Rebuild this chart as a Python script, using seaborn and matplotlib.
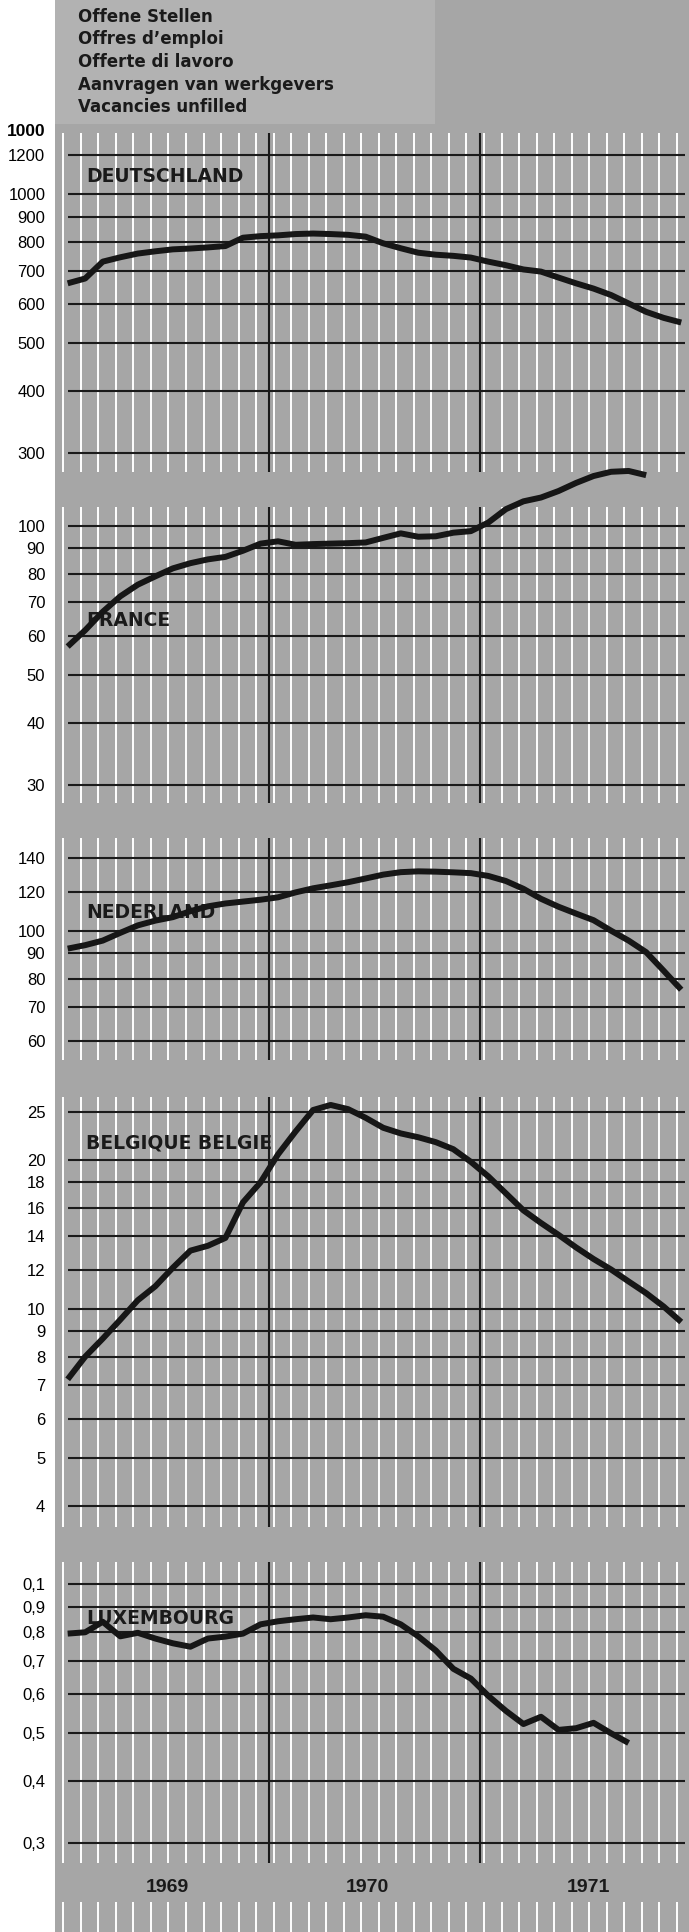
import numpy as np
import pandas as pd
import matplotlib
matplotlib.use("Agg")
import matplotlib.pyplot as plt
import seaborn as sns

sns.set_style("white")
plt.rcParams["font.family"] = ["Liberation Sans", "DejaVu Sans"]

# monthly values, Jan 1969 onwards
de_values = [660, 675, 730, 745, 758, 766, 773, 776, 780, 785, 816, 822,
             825, 830, 832, 830, 827, 820, 795, 777, 761, 754, 750, 744,
             730, 718, 704, 697, 678, 660, 644, 625, 601, 578, 562, 550]
fr_values = [57, 61.5, 67, 72, 76, 79, 82, 84, 85.5, 86.5, 89, 92,
             93, 91.5, 91.8, 92, 92.2, 92.5, 94.5, 96.5, 95, 95.2, 96.8, 97.5,
             101.5, 108, 112, 114, 117.5, 122, 126, 128.5, 129, 126.5]
nl_values = [92, 93.5, 95.5, 99, 102.5, 104.8, 106.5, 109.5, 112, 113.5, 114.5, 115.5,
             116.8, 119.5, 121.8, 123.5, 125.3, 127.5, 129.8, 131.3, 131.8, 131.6, 131.2, 130.7,
             129, 126, 121.5, 116, 111.8, 108.3, 105, 100, 95.5, 90.5, 83, 76]
be_values = [7.2, 8.0, 8.7, 9.5, 10.4, 11.1, 12.1, 13.1, 13.4, 13.9, 16.4, 18.0,
             20.5, 22.8, 25.2, 25.8, 25.3, 24.3, 23.2, 22.6, 22.2, 21.7, 21.0, 19.8,
             18.5, 17.1, 15.8, 14.9, 14.1, 13.3, 12.6, 12.0, 11.35, 10.75, 10.1, 9.4]
lu_values = [0.795, 0.80, 0.84, 0.785, 0.798, 0.777, 0.76, 0.748, 0.777, 0.784, 0.795, 0.83,
             0.842, 0.85, 0.857, 0.85, 0.857, 0.866, 0.86, 0.83, 0.785, 0.735, 0.675, 0.645,
             0.595, 0.555, 0.522, 0.54, 0.508, 0.512, 0.525, 0.50, 0.478]

de_ticks = [1200, 1000, 900, 800, 700, 600, 500, 400, 300]
de_labels = ["1200", "1000", "900", "800", "700", "600", "500", "400", "300"]
fr_ticks = [100, 90, 80, 70, 60, 50, 40, 30]
fr_labels = ["100", "90", "80", "70", "60", "50", "40", "30"]
nl_ticks = [140, 120, 100, 90, 80, 70, 60]
nl_labels = ["140", "120", "100", "90", "80", "70", "60"]
be_ticks = [25, 20, 18, 16, 14, 12, 10, 9, 8, 7, 6, 5, 4]
be_labels = ["25", "20", "18", "16", "14", "12", "10", "9", "8", "7", "6", "5", "4"]
lu_ticks = [1.0, 0.9, 0.8, 0.7, 0.6, 0.5, 0.4, 0.3]
lu_labels = ["0,1", "0,9", "0,8", "0,7", "0,6", "0,5", "0,4", "0,3"]

header_lines = ["Offene Stellen", "Offres d\u2019emploi", "Offerte di lavoro",
                "Aanvragen van werkgevers", "Vacancies unfilled"]
years = ["1969", "1970", "1971"]
year_pos = [6.2, 17.6, 30.2]
year_breaks = [12, 24]

W, H = 689, 1932
X0PX, MONTHPX = 58.9, 17.53     # px of Jan 1969 start, px per month
DECADE = 495.0                   # px per decade on every log panel
GRAY = "#a6a6a6"
INK = "#1a1a1a"

xlim = ((55 - X0PX) / MONTHPX, (W - X0PX) / MONTHPX)
hx0 = (68 - X0PX) / MONTHPX
hx1 = (685 - X0PX) / MONTHPX
white_x = np.arange(36) + 0.25

fig = plt.figure(figsize=(W / 100, H / 100), dpi=100)
fig.patch.set_facecolor("white")

# gray backing sheet, in pixel units vertically
bg = fig.add_axes([55 / W, 0, (W - 55) / W, 1])
bg.set_facecolor(GRAY)
bg.set_xlim(*xlim)
bg.set_ylim(H, 0)
bg.set_xticks([])
bg.set_yticks([])
for s in bg.spines.values():
    s.set_visible(False)
bg.add_patch(plt.Rectangle((xlim[0], 0), (435 - 55) / MONTHPX, 124,
                           color="#b2b2b2", lw=0, zorder=0))
bg.vlines(white_x, 1902, H, color="white", lw=1.4)
for name, xp in zip(years, year_pos):
    bg.text(xp, 1887, name, ha="center", va="center", fontsize=14,
            weight="bold", color=INK)

for i, line in enumerate(header_lines):
    fig.text(78 / W, 1 - (17 + 22.5 * i) / H, line, ha="left", va="center",
             fontsize=12, weight="bold", color=INK, family="DejaVu Sans")
fig.text(45 / W, 1 - 132 / H, "1000", ha="right", va="center",
         fontsize=12.5, weight="bold", color="black")

panels = [
    ("DEUTSCHLAND", 133, 472, 1000, 194, 177, de_ticks, de_labels, de_values),
    ("FRANCE", 507, 803, 100, 525.7, 620, fr_ticks, fr_labels, fr_values),
    ("NEDERLAND", 838, 1060, 100, 930.7, 912, nl_ticks, nl_labels, nl_values),
    ("BELGIQUE BELGIE", 1097, 1527, 10, 1308.7, 1143, be_ticks, be_labels, be_values),
    ("LUXEMBOURG", 1562, 1863, 1.0, 1584.3, 1619, lu_ticks, lu_labels, lu_values),
]

for name, top, bottom, ref, ref_px, lab_y, ticks, labels, values in panels:
    ax = fig.add_axes([55 / W, 1 - bottom / H, (W - 55) / W, (bottom - top) / H])
    ax.set_facecolor("none")
    ax.set_yscale("log")
    ax.set_xlim(*xlim)
    ax.set_ylim(ref * 10 ** ((ref_px - bottom) / DECADE),
                ref * 10 ** ((ref_px - top) / DECADE))
    for s in ax.spines.values():
        s.set_visible(False)

    for xv in white_x:
        ax.axvline(xv, color="white", lw=1.4, zorder=1)
    ax.hlines(ticks, hx0, hx1, color=INK, lw=1.5, zorder=2)
    for xb in year_breaks:
        ax.axvline(xb, color=INK, lw=1.5, zorder=3)

    df = pd.DataFrame({"month": np.arange(len(values)) + 0.5, "value": values})
    sns.lineplot(data=df, x="month", y="value", ax=ax, color="#161616",
                 lw=4.3, clip_on=False, zorder=5, solid_capstyle="butt")

    ax.text((86 - X0PX) / MONTHPX, ref * 10 ** ((ref_px - lab_y) / DECADE),
            name, ha="left", va="center", fontsize=13.5, weight="bold",
            color=INK, family="DejaVu Sans", zorder=4)

    ax.set_yticks(ticks)
    ax.set_yticklabels(labels)
    ax.yaxis.set_minor_locator(matplotlib.ticker.NullLocator())
    ax.tick_params(axis="y", length=0, pad=7, labelsize=12, labelcolor="black")
    ax.set_xticks([])
    ax.set_xlabel("")
    ax.set_ylabel("")

fig.savefig("out.png", dpi=100, facecolor="white")
